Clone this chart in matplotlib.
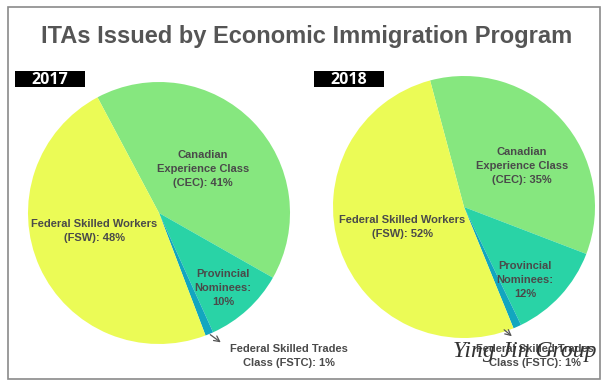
import matplotlib.pyplot as plt
from matplotlib.patches import Rectangle

# data
programs = ['CEC', 'PN', 'FSTC', 'FSW']
share_2017 = [41, 10, 1, 48]
share_2018 = [35, 12, 1, 52]
colors = ['#86e77f', '#29d3a6', '#12a6bf', '#ebfb56']
labels_2017 = ['Canadian\nExperience Class\n(CEC): 41%', 'Provincial\nNominees:\n10%',
               'Federal Skilled Trades\nClass (FSTC): 1%', 'Federal Skilled Workers\n(FSW): 48%']
labels_2018 = ['Canadian\nExperience Class\n(CEC): 35%', 'Provincial\nNominees:\n12%',
               'Federal Skilled Trades\nClass (FSTC): 1%', 'Federal Skilled Workers\n(FSW): 52%']
years = ['2017', '2018']

W, H = 607, 384
fig = plt.figure(figsize=(W / 100, H / 100), dpi=100)
ax = fig.add_axes([0, 0, 1, 1])
plt.rcParams['font.family'] = ['Liberation Sans', 'DejaVu Sans']


def Y(y):
    # pixel row -> data y
    return H - y


txt = '#4a4a4a'
R = 131

ax.pie(share_2017, colors=colors, startangle=118, counterclock=False,
       radius=R, center=(159, Y(213)), wedgeprops=dict(linewidth=0))
ax.pie(share_2018, colors=colors, startangle=105, counterclock=False,
       radius=R, center=(464, Y(207)), wedgeprops=dict(linewidth=0))

# slice labels (pixel positions)
pos_2017 = [(203, 169), (223, 288), (289, 356), (94, 231)]
pos_2018 = [(522, 166), (525, 280), (535, 356), (402, 227)]
for labels, pos in [(labels_2017, pos_2017), (labels_2018, pos_2018)]:
    for lab, (x, y) in zip(labels, pos):
        ax.text(x, Y(y), lab, ha='center', va='center', fontsize=8,
                fontweight='bold', color=txt, linespacing=1.45)

# arrows to the small FSTC slice
for (x0, y0), (x1, y1) in [((208, 333), (223, 344)), ((502, 328), (514, 338))]:
    ax.annotate('', xy=(x1, Y(y1)), xytext=(x0, Y(y0)),
                arrowprops=dict(arrowstyle='->', color='#555555', lw=0.9))

# year boxes
for year, x in zip(years, [15, 314]):
    ax.add_patch(Rectangle((x, Y(87)), 70, 16, facecolor='black', edgecolor='none'))
    ax.text(x + 35, Y(79.5), year, ha='center', va='center', color='white',
            fontsize=11.5, fontweight='bold', family=['Open Sans', 'DejaVu Sans'])

ax.text(W / 2 + 3, Y(43), 'ITAs Issued by Economic Immigration Program', ha='center',
        va='baseline', fontsize=17, fontweight='bold', color='#555555')

# watermark
ax.text(525, Y(352), 'Ying Jin Group', ha='center', va='center', fontsize=17,
        style='italic', family=['Liberation Serif', 'DejaVu Serif'], color='#333333')

# frame
ax.add_patch(Rectangle((8, Y(379)), 592, 372, facecolor='none', edgecolor='#8a8a8a', lw=1.2))

ax.set_xlim(0, W)
ax.set_ylim(0, H)
ax.set_aspect('equal')
ax.axis('off')
fig.savefig('out.png', dpi=100)
